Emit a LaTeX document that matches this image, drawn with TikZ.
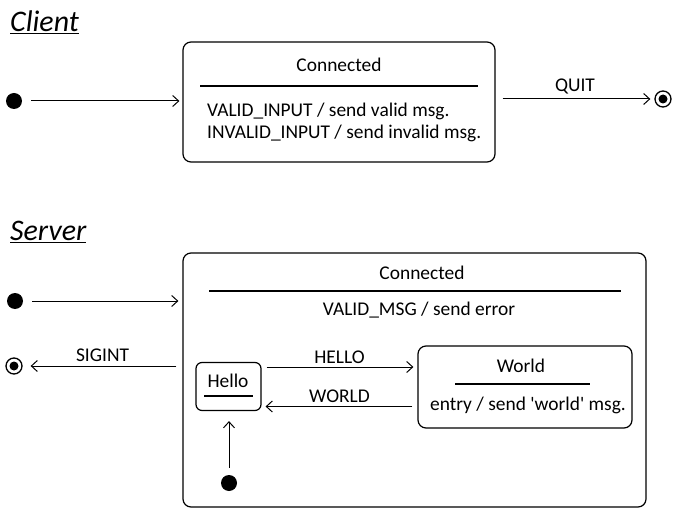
\documentclass[tikz,border=0pt]{standalone}
\usepackage{fontspec}
\setmainfont{Carlito}
\usepackage{tikz}
\usetikzlibrary{arrows.meta, positioning, calc}

\tikzset{
  statebox/.style={draw, line width=1.2bp, rounded corners=8bp, inner sep=0pt},
  initdot/.style={circle, fill, minimum size=16bp, inner sep=0pt},
  finaldot/.style={circle, draw, line width=1.3bp, minimum size=16bp, inner sep=0pt,
    path picture={\fill (path picture bounding box.center) circle (4.5bp);}},
  trans/.style={-{Straight Barb[length=6bp, width=11bp]}, line width=1bp},
  sepline/.style={line width=1.8bp},
  txt/.style={font=\fontsize{19.5}{22}\selectfont, inner sep=2bp},
  heading/.style={font=\fontsize{30}{32}\selectfont\itshape, anchor=base west, inner sep=0pt}
}

\begin{document}
\begin{tikzpicture}[x=1bp, y=-1bp]
\useasboundingbox (0,0) rectangle (683,522);

% client
\node[heading] (ctitle) at (10,32) {\underline{Client}};
\node[statebox, minimum width=312bp, minimum height=120bp] (cconn) at (339,102) {};
\node[txt] (cname) at (339,65) {Connected};
\draw[sepline] (200,86) -- (478,86);
\node[txt, anchor=west, align=left] (cacts) at (205,122) {VALID\_INPUT / send valid msg.\\INVALID\_INPUT / send invalid msg.};
\node[initdot] (cinit) at (14,101) {};
\node[finaldot] (cfin) at (663,99) {};
\draw[trans, shorten <=9bp, shorten >=3bp] (cinit) -- (cinit -| cconn.west);
\draw[trans, shorten <=7bp, shorten >=4bp] (cfin -| cconn.east) -- (cfin)
  node[txt, midway, above=2bp] (quit) {QUIT};

% server
\node[heading] (stitle) at (10,241) {\underline{Server}};
\node[statebox, minimum width=463bp, minimum height=254bp] (sconn) at (414.5,380) {};
\node[txt] (sname) at (422,273) {Connected};
\draw[sepline] (209,291) -- (621,291);
\node[txt] (sacts) at (419,310) {VALID\_MSG / send error};
\node[initdot] (sinit) at (15,301) {};
\node[finaldot] (sfin) at (14,366) {};
\draw[trans, shorten <=9bp, shorten >=4bp] (sinit) -- (sinit -| sconn.west);
\draw[trans, shorten <=6bp, shorten >=8bp] (sfin -| sconn.west) -- (sfin)
  node[txt, midway, above=2bp] (sigint) {SIGINT};

% substates
\node[statebox, rounded corners=6bp, minimum width=65bp, minimum height=48bp] (hello) at (228.5,386.5) {};
\node[txt] (hname) at (228,381) {Hello};
\draw[sepline, line width=1.4bp] (204,396) -- (253,396);
\node[statebox, minimum width=214bp, minimum height=82bp] (world) at (525,387) {};
\node[txt] (wname) at (521,366) {World};
\draw[sepline, line width=1.4bp] (455,384) -- (590,384);
\node[txt] (wacts) at (528,405) {entry / send \textquotesingle world\textquotesingle\ msg.};
\node[initdot] (hinit) at (229,483) {};

\draw[trans, shorten <=5bp, shorten >=4bp] ([yshift=19.5bp]hello.east) -- ([yshift=19.5bp]hello.east -| world.west)
  node[txt, midway, above=1bp] (hellolbl) {HELLO};
\draw[trans, shorten <=5bp, shorten >=4bp] ([yshift=-20bp]hello.east -| world.west) -- ([yshift=-20bp]hello.east)
  node[txt, midway, above=1bp] (worldlbl) {WORLD};
\draw[trans, shorten <=7bp, shorten >=10bp] (hinit) -- (hinit |- hello.south);
\end{tikzpicture}
\end{document}
